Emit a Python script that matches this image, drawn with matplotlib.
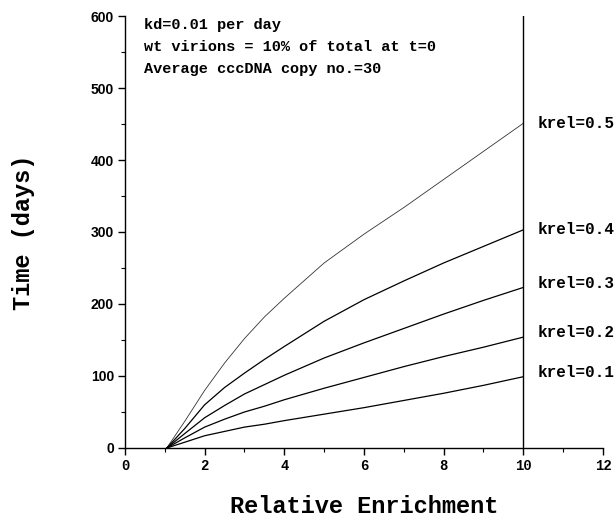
import matplotlib
matplotlib.use("Agg")
import matplotlib.pyplot as plt
from matplotlib.ticker import MultipleLocator

enrichment = [1.05, 1.5, 2, 2.5, 3, 3.5, 4, 5, 6, 7, 8, 9, 10]
krel_labels = ["krel=0.5", "krel=0.4", "krel=0.3", "krel=0.2", "krel=0.1"]
t_k05 = [0, 37, 80, 118, 152, 182, 208, 257, 297, 334, 373, 412, 451]
t_k04 = [0, 27, 60, 84, 104, 123, 141, 176, 206, 232, 257, 280, 303]
t_k03 = [0, 20, 42, 59, 75, 88, 101, 125, 146, 166, 186, 205, 223]
t_k02 = [0, 14, 29, 40, 50, 58, 67, 83, 98, 113, 127, 140, 154]
t_k01 = [0, 8, 17, 23, 29, 33, 38, 47, 56, 66, 76, 87, 99]
series = [t_k05, t_k04, t_k03, t_k02, t_k01]
label_offsets = [0, 0, 5, 6, 6]
notes = ["kd=0.01 per day", "wt virions = 10% of total at t=0",
         "Average cccDNA copy no.=30"]

mono = ["Liberation Mono", "DejaVu Sans Mono"]
narrow = ["Liberation Sans Narrow", "Liberation Sans", "DejaVu Sans"]

fig = plt.figure(figsize=(6.16, 5.2), dpi=100)
ax = fig.add_axes([0.2029, 0.1385, 0.776, 0.8307])

widths = [0.6, 0.9, 0.9, 0.9, 0.9]
colors = ["#333333", "black", "black", "black", "black"]
for ys, lab, off, lw, c in zip(series, krel_labels, label_offsets, widths, colors):
    ax.plot(enrichment, ys, color=c, lw=lw)
    ax.text(10.35, ys[-1] + off, lab, family=mono, weight="bold", fontsize=11.5,
            ha="left", va="center", clip_on=False)

ax.plot([10, 10], [0, 600], color="black", lw=1.0)

for i, s in enumerate(notes):
    ax.text(0.48, 588 - i * 31, s, family=mono, weight="bold", fontsize=11,
            ha="left", va="center")

ax.set_xlim(0, 12)
ax.set_ylim(0, 600)
ax.spines["top"].set_visible(False)
ax.spines["right"].set_visible(False)
ax.spines["left"].set_linewidth(1.0)
ax.spines["bottom"].set_linewidth(1.0)
ax.xaxis.set_major_locator(MultipleLocator(2))
ax.xaxis.set_minor_locator(MultipleLocator(1))
ax.yaxis.set_major_locator(MultipleLocator(100))
ax.yaxis.set_minor_locator(MultipleLocator(50))
ax.tick_params(which="major", length=5, width=1.0, direction="out", pad=3)
ax.tick_params(which="minor", length=3, width=0.8, direction="out")
for lbl in ax.get_xticklabels():
    lbl.set_family(mono)
    lbl.set_weight("bold")
    lbl.set_fontsize(10)
for lbl in ax.get_yticklabels():
    lbl.set_family(narrow)
    lbl.set_weight("bold")
    lbl.set_fontsize(10)

ax.set_xlabel("Relative Enrichment", family=mono, weight="bold", fontsize=17,
              labelpad=16)
ax.set_ylabel("Time (days)", family=mono, weight="bold", fontsize=17,
              labelpad=40)

fig.savefig("out.png", dpi=100)
